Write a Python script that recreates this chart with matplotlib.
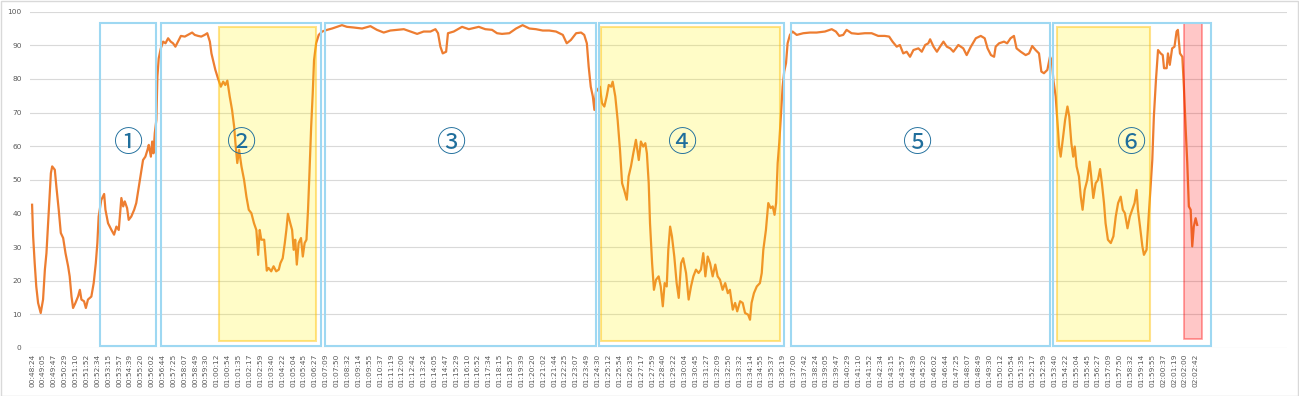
import matplotlib.pyplot as plt
from matplotlib.patches import Rectangle

# Elapsed time since 00:48:24 (seconds) and measured level (%)
elapsed_s = [
    0, 4, 10, 16, 23, 33, 42, 49, 55, 64,
    72, 77, 87, 93, 102, 110, 119, 128, 138, 144,
    151, 157, 166, 176, 183, 189, 199, 206, 214, 227,
    236, 244, 250, 255, 265, 276, 281, 291, 304, 314,
    323, 332, 342, 349, 355, 364, 370, 380, 391, 399,
    409, 419, 425, 434, 442, 447, 455, 460, 465, 470,
    476, 480, 485, 493, 502, 511, 521, 531, 540, 549,
    559, 570, 585, 597, 613, 623, 636, 648, 661, 671,
    681, 687, 693, 702, 712, 723, 732, 740, 748, 757,
    766, 774, 779, 786, 793, 802, 812, 821, 830, 840,
    850, 859, 866, 872, 878, 889, 899, 906, 916, 925,
    935, 945, 951, 960, 968, 974, 980, 989, 996, 1002,
    1008, 1014, 1021, 1030, 1037, 1044, 1051, 1057, 1062, 1069,
    1075, 1080, 1088, 1098, 1111, 1130, 1149, 1168, 1187, 1206,
    1232, 1264, 1296, 1321, 1347, 1372, 1398, 1424, 1449, 1475,
    1500, 1526, 1545, 1555, 1564, 1573, 1586, 1593, 1615, 1647,
    1673, 1711, 1736, 1762, 1781, 1800, 1828, 1854, 1879, 1905,
    1930, 1956, 1981, 2007, 2033, 2048, 2064, 2084, 2103, 2115,
    2125, 2132, 2140, 2148, 2154, 2160, 2175, 2183, 2192, 2201,
    2209, 2218, 2224, 2234, 2243, 2252, 2260, 2268, 2278, 2285,
    2294, 2303, 2313, 2324, 2332, 2341, 2349, 2355, 2362, 2367,
    2375, 2382, 2390, 2400, 2408, 2416, 2423, 2431, 2437, 2444,
    2451, 2460, 2469, 2477, 2486, 2494, 2505, 2515, 2524, 2533,
    2543, 2553, 2562, 2571, 2579, 2588, 2597, 2607, 2617, 2626,
    2635, 2645, 2655, 2665, 2673, 2684, 2693, 2701, 2712, 2722,
    2731, 2743, 2750, 2756, 2765, 2776, 2788, 2795, 2801, 2811,
    2820, 2829, 2837, 2844, 2850, 2856, 2862, 2869, 2875, 2881,
    2888, 2894, 2903, 2913, 2929, 2954, 2980, 3005, 3037, 3063,
    3079, 3092, 3107, 3120, 3139, 3164, 3190, 3216, 3241, 3266,
    3283, 3296, 3312, 3324, 3337, 3350, 3363, 3376, 3395, 3408,
    3421, 3433, 3440, 3453, 3466, 3478, 3491, 3504, 3517, 3529,
    3548, 3567, 3580, 3596, 3615, 3634, 3649, 3660, 3673, 3685,
    3691, 3704, 3723, 3735, 3748, 3761, 3771, 3787, 3806, 3819,
    3831, 3844, 3857, 3866, 3876, 3889, 3899, 3906, 3912, 3921,
    3927, 3934, 3940, 3948, 3957, 3966, 3973, 3981, 3988, 3994,
    4001, 4010, 4017, 4024, 4032, 4042, 4051, 4057, 4065, 4074,
    4083, 4091, 4098, 4106, 4112, 4121, 4132, 4142, 4151, 4160,
    4170, 4178, 4186, 4196, 4205, 4214, 4223, 4231, 4236, 4244,
    4253, 4259, 4269, 4274, 4282, 4291, 4297, 4305, 4313, 4323,
    4331, 4336, 4346, 4351, 4358, 4367, 4376, 4384, 4389, 4397,
    4406, 4412, 4419, 4425, 4431, 4438, 4444, 4450, 4457, 4463,
]
level = [
    42.6, 33.2, 25.2, 18.3, 13.4, 10.4, 14.4, 23.3, 28.2, 41.1,
    52.0, 54.0, 53.0, 48.0, 41.1, 34.2, 32.7, 28.2, 24.3, 21.3,
    15.3, 11.9, 13.4, 15.3, 17.3, 14.4, 13.9, 11.9, 14.4, 15.3,
    19.3, 25.2, 31.2, 39.1, 44.0, 45.8, 41.1, 37.1, 35.1, 33.7,
    36.1, 35.1, 44.6, 42.1, 43.6, 41.6, 38.1, 39.1, 41.1, 43.1,
    48.0, 53.0, 55.9, 56.9, 58.9, 60.4, 56.9, 61.4, 57.9, 63.9,
    67.8, 80.7, 86.1, 89.1, 91.1, 90.6, 92.1, 91.1, 90.6, 89.6,
    91.1, 92.8, 92.6, 93.1, 93.8, 93.1, 92.8, 92.6, 93.1, 93.6,
    91.1, 87.6, 85.6, 82.7, 80.2, 77.7, 79.2, 78.2, 79.5, 74.8,
    70.8, 65.8, 60.9, 55.0, 58.9, 54.0, 50.0, 45.0, 41.1, 40.1,
    37.1, 35.1, 27.7, 35.1, 32.2, 32.2, 23.0, 23.8, 22.8, 24.3,
    22.8, 23.3, 25.2, 26.7, 31.2, 35.1, 39.9, 37.1, 35.1, 29.2,
    32.2, 24.8, 31.2, 32.7, 27.2, 31.2, 32.2, 41.1, 51.0, 65.8,
    75.7, 85.6, 90.6, 93.1, 94.1, 94.6, 95.0, 95.5, 96.0, 95.5,
    95.3, 95.0, 95.7, 94.6, 93.8, 94.4, 94.6, 94.8, 94.1, 93.4,
    94.1, 94.1, 94.8, 93.6, 89.6, 87.6, 88.1, 93.6, 94.1, 95.5,
    94.8, 95.5, 94.8, 94.6, 93.6, 93.4, 93.6, 95.0, 96.0, 95.0,
    94.8, 94.4, 94.4, 94.1, 93.1, 90.6, 91.6, 93.6, 93.8, 93.1,
    90.6, 83.7, 77.7, 74.8, 70.8, 76.2, 77.7, 72.8, 71.8, 74.8,
    78.2, 77.7, 79.2, 74.8, 67.8, 58.9, 49.0, 47.0, 44.1, 51.0,
    54.0, 57.9, 61.9, 55.9, 61.4, 59.9, 60.9, 57.9, 49.0, 37.1,
    25.2, 17.3, 20.3, 21.3, 18.3, 12.4, 19.3, 18.3, 29.2, 36.1,
    33.2, 27.2, 19.3, 14.9, 25.2, 26.7, 22.3, 14.4, 18.3, 21.3,
    23.3, 22.3, 23.3, 28.2, 21.3, 27.2, 25.2, 21.3, 24.8, 21.3,
    20.3, 17.3, 19.3, 16.3, 17.3, 11.4, 13.4, 10.9, 13.9, 13.4,
    10.4, 9.9, 8.4, 13.4, 16.3, 18.3, 19.3, 22.3, 29.2, 35.1,
    43.1, 41.6, 42.1, 39.6, 43.1, 55.0, 60.9, 69.8, 77.7, 82.2,
    84.7, 90.6, 93.1, 94.1, 93.1, 93.6, 93.8, 93.8, 94.1, 94.8,
    94.1, 92.8, 93.1, 94.6, 93.6, 93.4, 93.6, 93.6, 92.8, 92.8,
    92.6, 91.1, 89.6, 90.1, 87.6, 88.1, 86.6, 88.6, 89.1, 88.1,
    90.1, 90.6, 91.8, 89.6, 88.1, 89.6, 91.1, 89.6, 89.1, 88.1,
    90.1, 89.1, 87.1, 89.6, 92.1, 92.8, 92.1, 89.1, 87.1, 86.6,
    89.6, 90.6, 91.1, 90.6, 92.1, 92.8, 89.1, 88.1, 87.1, 87.6,
    89.8, 88.6, 87.6, 82.2, 81.7, 82.7, 86.6, 85.6, 79.7, 74.8,
    67.8, 59.9, 56.9, 61.9, 67.8, 71.8, 68.8, 60.9, 56.9, 59.9,
    54.0, 51.0, 45.0, 41.1, 47.0, 50.0, 55.4, 51.0, 44.6, 49.0,
    50.0, 53.2, 49.0, 43.1, 37.1, 32.2, 31.2, 33.2, 39.1, 43.1,
    45.0, 41.1, 40.1, 35.6, 39.1, 41.1, 43.1, 47.0, 41.1, 36.1,
    30.2, 27.7, 29.2, 35.1, 45.0, 55.9, 68.8, 79.7, 88.6, 87.6,
    87.1, 83.2, 83.2, 87.6, 84.2, 89.1, 89.6, 94.1, 94.6, 87.6,
    86.6, 77.7, 64.9, 55.0, 42.1, 41.1, 30.2, 36.1, 38.6, 36.6,
]

tick_labels = [
    "00:48:24", "00:49:05", "00:49:47", "00:50:29", "00:51:10", "00:51:52", "00:52:34", "00:53:15", "00:53:57", "00:54:39",
    "00:55:20", "00:56:02", "00:56:44", "00:57:25", "00:58:07", "00:58:49", "00:59:30", "01:00:12", "01:00:54", "01:01:35",
    "01:02:17", "01:02:59", "01:03:40", "01:04:22", "01:05:04", "01:05:45", "01:06:27", "01:07:09", "01:07:50", "01:08:32",
    "01:09:14", "01:09:55", "01:10:37", "01:11:19", "01:12:00", "01:12:42", "01:13:24", "01:14:05", "01:14:47", "01:15:29",
    "01:16:10", "01:16:52", "01:17:34", "01:18:15", "01:18:57", "01:19:39", "01:20:20", "01:21:02", "01:21:44", "01:22:25",
    "01:23:07", "01:23:49", "01:24:30", "01:25:12", "01:25:54", "01:26:35", "01:27:17", "01:27:59", "01:28:40", "01:29:22",
    "01:30:04", "01:30:45", "01:31:27", "01:32:09", "01:32:50", "01:33:32", "01:34:14", "01:34:55", "01:35:37", "01:36:19",
    "01:37:00", "01:37:42", "01:38:24", "01:39:05", "01:39:47", "01:40:29", "01:41:10", "01:41:52", "01:42:34", "01:43:15",
    "01:43:57", "01:44:39", "01:45:20", "01:46:02", "01:46:44", "01:47:25", "01:48:07", "01:48:49", "01:49:30", "01:50:12",
    "01:50:54", "01:51:35", "01:52:17", "01:52:59", "01:53:40", "01:54:22", "01:55:04", "01:55:45", "01:56:27", "01:57:09",
    "01:57:50", "01:58:32", "01:59:14", "01:59:55", "02:00:37", "02:01:19", "02:02:00", "02:02:42",
]

# Annotated phases: (start s, end s) for outline boxes and highlighted spans
phase_spans = [(260, 475), (494, 1107), (1123, 2160), (2172, 2880), (2906, 3899), (3912, 4515)]
phase_names = ["①", "②", "③", "④", "⑤", "⑥"]
phase_label_x = [368, 804, 1605, 2490, 3390, 4212]
yellow_spans = [(716, 1088), (2179, 2865), (3927, 4282)]
red_spans = [(4413, 4480)]

LINE = "#ED7D31"
BOX = "#9ED8F2"
TEXT = "#595959"
GRID = "#D9D9D9"


def to_seconds(label):
    h, m, s = (int(p) for p in label.split(":"))
    return h * 3600 + m * 60 + s


t0 = to_seconds(tick_labels[0])
tick_pos = [to_seconds(lb) - t0 for lb in tick_labels]

fig = plt.figure(figsize=(12.99, 3.96), dpi=100)
ax = fig.add_axes([30 / 1299, 1 - 348 / 396, 1257 / 1299, 336.3 / 396])

ax.plot(elapsed_s, level, color=LINE, lw=1.6, zorder=2, solid_joinstyle="round")

for x0, x1 in yellow_spans:
    ax.add_patch(Rectangle((x0, 2.0), x1 - x0, 93.5,
                           facecolor=(1, 0.95, 0, 0.22),
                           edgecolor=(1, 0.75, 0, 0.45), lw=1.5, zorder=3))
for x0, x1 in red_spans:
    ax.add_patch(Rectangle((x0, 2.6), x1 - x0, 94.0,
                           facecolor=(1, 0, 0, 0.22),
                           edgecolor=(1, 0, 0, 0.4), lw=1.2, zorder=3))
for x0, x1 in phase_spans:
    ax.add_patch(Rectangle((x0, 0.7), x1 - x0, 96.0, fill=False,
                           edgecolor=BOX, lw=1.5, zorder=4))

for name, x in zip(phase_names, phase_label_x):
    ax.text(x, 60.7, name, ha="center", va="center", fontsize=21,
            color="#1F6E9C", family=["Noto Sans CJK JP", "DejaVu Sans"],
            zorder=5)

ax.set_xlim(-8, 4807)
ax.set_ylim(0, 100)
ax.set_yticks(range(0, 101, 10))
ax.set_xticks(tick_pos)
ax.set_xticklabels(tick_labels, rotation=90)
ax.tick_params(axis="both", length=0, labelsize=5.3, labelcolor=TEXT)
ax.tick_params(axis="y", pad=6)
ax.tick_params(axis="x", pad=4.3)
ax.grid(axis="y", color=GRID, lw=0.8, zorder=0)
ax.set_axisbelow(True)
for sp in ax.spines.values():
    sp.set_visible(False)

fig.patches.append(Rectangle((0.5 / 1299, 0.5 / 396), 1297.5 / 1299, 394.5 / 396,
                             transform=fig.transFigure, fill=False,
                             edgecolor=GRID, lw=1))

fig.savefig("out.png", dpi=100)
